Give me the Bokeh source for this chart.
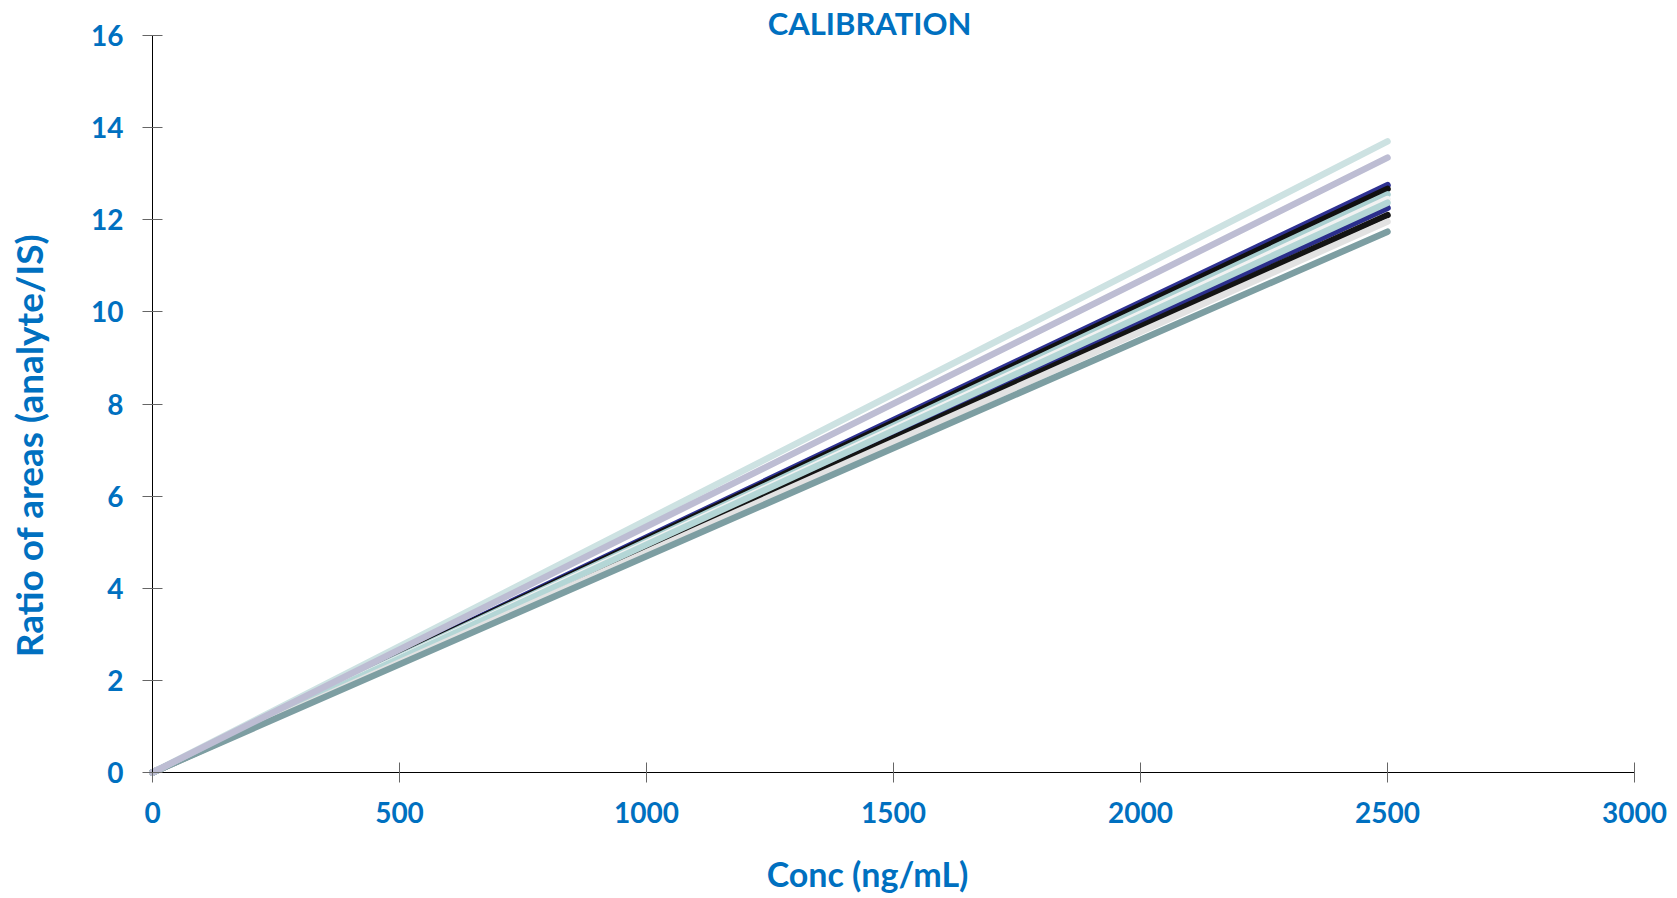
from bokeh.plotting import figure
from bokeh.models import Range1d, FixedTicker, Label
from bokeh.embed import file_html
from bokeh.resources import INLINE

# Data: calibration lines (concentration ng/mL vs ratio of areas)
conc = [0, 2500]
# drawn in this order (later ones on top)
series_values = {
    "S3": [0, 12.75],
    "S8": [0, 12.26],
    "S4": [0, 12.67],
    "S9": [0, 12.10],
    "S5": [0, 12.55],
    "S6": [0, 12.45],
    "S7": [0, 12.37],
    "S10": [0, 11.96],
    "S11": [0, 11.74],
    "S1": [0, 13.70],
    "S2": [0, 13.35],
}
series_colors = {
    "S1": "#cde2e2",
    "S2": "#bdbdd3",
    "S3": "#2e3192",
    "S4": "#111111",
    "S5": "#a9cfd0",
    "S6": "#f2f2f2",
    "S7": "#b4d6d6",
    "S8": "#2b2e8c",
    "S9": "#141414",
    "S10": "#e2e2e2",
    "S11": "#7d9ea2",
}
x_ticks = [0, 500, 1000, 1500, 2000, 2500, 3000]
y_ticks = [0, 2, 4, 6, 8, 10, 12, 14, 16]
title_text = "CALIBRATION"
x_label = "Conc (ng/mL)"
y_label = "Ratio of areas (analyte/IS)"

BLUE = "#0070C0"
FONT = "Lato"

# the frame fills the whole canvas; axes are pinned at 0 and bounded
p = figure(width=1677, height=898, output_backend="svg", toolbar_location=None,
           x_range=Range1d(-307.7, 3087.0), y_range=Range1d(-2.735, 16.76),
           min_border=0, title=None)
p.outline_line_color = None
p.xgrid.grid_line_color = None
p.ygrid.grid_line_color = None

for name in series_values:
    p.line(conc, series_values[name], line_color=series_colors[name],
           line_width=6.5, line_cap="round")

for ax, ticks in ((p.xaxis[0], x_ticks), (p.yaxis[0], y_ticks)):
    ax.ticker = FixedTicker(ticks=ticks)
    ax.fixed_location = 0
    ax.bounds = (ticks[0], ticks[-1])
    ax.major_label_text_color = BLUE
    ax.major_label_text_font = FONT
    ax.major_label_text_font_size = "28px"
    ax.major_label_text_font_style = "bold"
    ax.axis_line_color = "black"
    ax.axis_line_width = 1
    ax.major_tick_line_color = "#666666"
    ax.major_tick_in = 10
    ax.major_tick_out = 10
    ax.minor_tick_line_color = None
    ax.major_label_standoff = 19

common = dict(text_color=BLUE, text_font=FONT, text_font_style="bold",
              text_align="center", text_baseline="alphabetic")
p.add_layout(Label(x=1500, y=16.27, x_offset=-24, text=title_text,
                   text_font_size="31px", **common))
p.add_layout(Label(x=1500, y=-2.20, x_offset=-26, text=x_label,
                   text_font_size="34px", **common))
p.add_layout(Label(x=-252, y=7.1, angle=1.5707963, text=y_label,
                   text_font_size="37px", **common))

open("out.html", "w").write(file_html(p, INLINE))
